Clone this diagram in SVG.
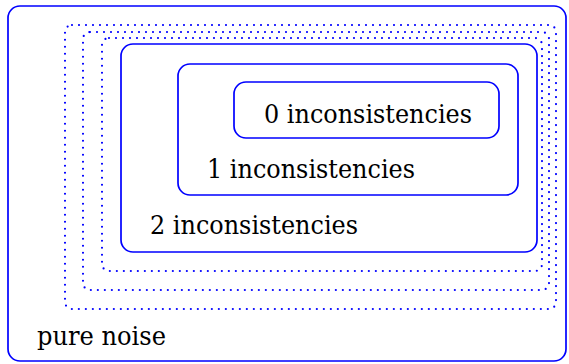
<svg xmlns="http://www.w3.org/2000/svg" width="569" height="364" viewBox="0 0 569 364">
<style>
.solid{fill:none;stroke:#0000ff;stroke-width:1.7}
.dot{fill:none;stroke:#0000ff;stroke-width:2.2;stroke-linecap:round;stroke-dasharray:0 7}
.lbl{font-family:'DejaVu Serif','Liberation Serif','Noto Serif',serif;font-size:26px;fill:#000}
</style>
<rect width="569" height="364" fill="#fff"/>
<g id="pure-noise">
<rect class="solid" x="8" y="6" width="558" height="355" rx="12"/>
<text class="lbl" x="37" y="345" textLength="129" lengthAdjust="spacingAndGlyphs">pure noise</text>
</g>
<g id="dotted-levels">
<rect class="dot" x="65" y="25" width="491" height="284" rx="7"/>
<rect class="dot" x="83" y="32" width="466" height="258" rx="7"/>
<rect class="dot" x="102" y="38" width="440" height="233" rx="7"/>
</g>
<g id="two">
<rect class="solid" x="121" y="44" width="416" height="208" rx="12"/>
<text class="lbl" x="150" y="234" textLength="208" lengthAdjust="spacingAndGlyphs">2 inconsistencies</text>
</g>
<g id="one">
<rect class="solid" x="178" y="64" width="340" height="131" rx="12"/>
<text class="lbl" x="207" y="178" textLength="208" lengthAdjust="spacingAndGlyphs">1 inconsistencies</text>
</g>
<g id="zero">
<rect class="solid" x="234" y="82" width="265" height="56" rx="12"/>
<text class="lbl" x="264" y="123" textLength="208" lengthAdjust="spacingAndGlyphs">0 inconsistencies</text>
</g>
<g id="connectors"></g>
</svg>
